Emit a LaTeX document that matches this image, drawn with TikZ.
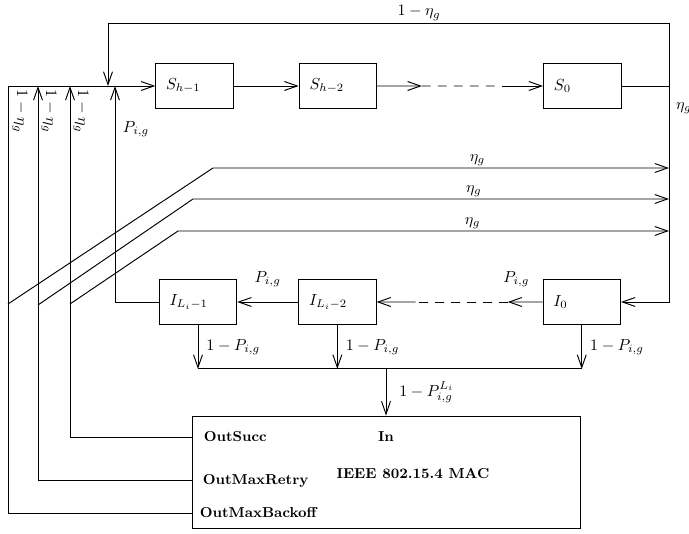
\documentclass[tikz,border=0pt]{standalone}
\usetikzlibrary{arrows.meta, positioning, calc}
\tikzset{
    stbox/.style={rectangle, draw, font=\normalsize, text width=35.4pt, inner xsep=6.5pt,
        minimum height=28.1pt, align=left},
    macbox/.style={rectangle, draw, minimum width=242.5pt, minimum height=70.6pt},
    port/.style={font=\small\bfseries, text height=1.6ex, text depth=.4ex, anchor=west},
    lbl/.style={inner sep=1pt},
    arrow/.style={-{Straight Barb[length=8pt,width=5.6pt]}},
    gapline/.style={dash pattern=on 5.5pt off 4.5pt}
}

\begin{document}
\begin{tikzpicture}[x=0.625pt, y=-0.625pt, line width=0.6pt]
    \useasboundingbox (0,0) rectangle (689,534);

    % backoff chain
    \node[stbox] (sA) at (194.5,86) {$S_{h-1}$};
    \node[stbox, right=40.6pt of sA] (sB) {$S_{h-2}$};
    \node[stbox, right=103.75pt of sB] (sC) {$S_0$};

    % retry chain
    \node[stbox] (iA) at (198,302) {$I_{L_i-1}$};
    \node[stbox, right=38.1pt of iA] (iB) {$I_{L_i-2}$};
    \node[stbox, right=103.75pt of iB] (iC) {$I_0$};

    % MAC block
    \node[macbox] (mac) at (386,472.5) {};
    \node[port] (pSucc) at (198,437) {OutSucc};
    \node[port] (pRetry) at (197,480) {OutMaxRetry};
    \node[port] (pBack) at (194,513) {OutMaxBackoff};
    \node[port, anchor=center] (pIn) at (386,437) {In};
    \node[font=\small\bfseries] (macName) at (413,474) {IEEE 802.15.4 MAC};

    \coordinate (cBack) at (8,86);
    \coordinate (cRetry) at (38,86);
    \coordinate (cSucc) at (70,86);
    \coordinate (cLoop) at (108,86);
    \coordinate (cFail) at (115,86);
    \coordinate (cTop) at (108,23);
    \coordinate (cRight) at (669,86);
    \coordinate (mSucc) at (mac.west |- pSucc.west);
    \coordinate (mRetry) at (mac.west |- pRetry.west);
    \coordinate (mBack) at (mac.west |- pBack.west);
    \coordinate (dBack) at (8,304);
    \coordinate (dRetry) at (38,305);
    \coordinate (dSucc) at (70,304);
    \coordinate (bBack) at (213,168);
    \coordinate (bRetry) at (193,199);
    \coordinate (bSucc) at (178,231);

    % top row
    \draw[arrow] (cBack) -- (sA.west);
    \draw[arrow] (sA) -- (sB);
    \coordinate (dS1) at ($(sB.east)!.27!(sC.west)$);
    \coordinate (dS2) at ($(sB.east)!.75!(sC.west)$);
    \draw[arrow] (sB.east) -- (dS1);
    \draw[gapline] (dS1) -- (dS2);
    \draw[arrow] (dS2) -- (sC.west);
    \draw (sC.east) -- (cRight);
    \draw[arrow] (cRight) |- (cTop) -- (cLoop);
    \draw[arrow] (cRight) |- (iC.east);
    \node[lbl] (tTop) at (419,13) {$1-\eta_g$};
    \node[lbl, anchor=west] (tRight) at (674,108) {$\eta_g$};

    % bottom row
    \coordinate (dI1) at ($(iC.west)!.21!(iB.east)$);
    \coordinate (dI2) at ($(iC.west)!.765!(iB.east)$);
    \draw[arrow] (iC.west) -- node[lbl, above=8pt, pos=.75] (tPC) {$P_{i,g}$} (dI1);
    \draw[gapline] (dI1) -- (dI2);
    \draw[arrow] (dI2) -- (iB.east);
    \draw[arrow] (iB) -- node[lbl, above=8pt] (tPB) {$P_{i,g}$} (iA);
    \draw[arrow] (iA.west) -| (cFail);
    \node[lbl] (tFail) at (136,129) {$P_{i,g}$};

    % success towards the MAC
    \path (iA.south) ++(0,44) coordinate (jA);
    \coordinate (jB) at (iB.south |- jA);
    \coordinate (jC) at (iC.south |- jA);
    \coordinate (jOut) at (mac.north |- jA);
    \draw[arrow] (iA.south) -- node[lbl, right=4pt] (tjA) {$1-P_{i,g}$} (jA);
    \draw[arrow] (iB.south) -- node[lbl, right=4pt] (tjB) {$1-P_{i,g}$} (jB);
    \draw[arrow] (iC.south) -- node[lbl, right=4pt] (tjC) {$1-P_{i,g}$} (jC);
    \draw (jA) -- (jC);
    \draw[arrow] (jOut) -- node[lbl, right=7pt] (tOut) {$1-P_{i,g}^{L_i}$} (mac.north);

    % MAC outputs back to the chain
    \draw (mBack) -| (cBack);
    \draw[arrow] (mRetry) -| (cRetry);
    \draw[arrow] (mSucc) -| (cSucc);
    \node[lbl, rotate=-90] (tBack) at (20,111) {$1-\eta_g$};
    \node[lbl, rotate=-90] (tRetry) at (49,111) {$1-\eta_g$};
    \node[lbl, rotate=-90] (tSucc) at (81,111) {$1-\eta_g$};

    \draw[arrow] (dBack) -- (bBack) -- node[lbl, above, pos=.58] (eBack) {$\eta_g$} (bBack -| cRight);
    \draw[arrow] (dRetry) -- (bRetry) -- node[lbl, above, pos=.59] (eRetry) {$\eta_g$} (bRetry -| cRight);
    \draw[arrow] (dSucc) -- (bSucc) -- node[lbl, above, pos=.6] (eSucc) {$\eta_g$} (bSucc -| cRight);
\end{tikzpicture}
\end{document}
